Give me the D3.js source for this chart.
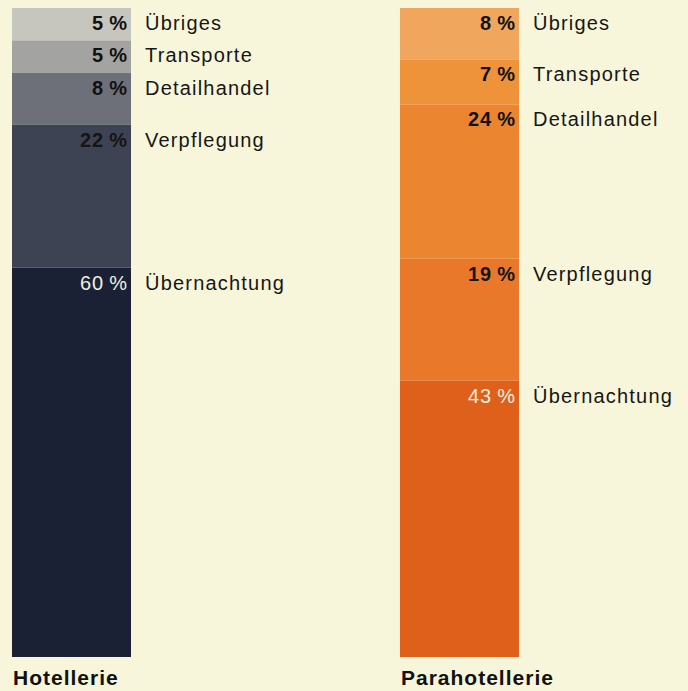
<!DOCTYPE html>
<html>
<head>
<meta charset="utf-8">
<script src="https://cdn.jsdelivr.net/npm/d3@7"></script>
<style>
  html, body { margin: 0; padding: 0; background: #f8f6da; }
  svg { display: block; }
</style>
</head>
<body>
<svg id="chart"></svg>
<script>
var WIDTH = 688, HEIGHT = 691;

// data, top segment first
var categories = ["Übriges", "Transporte", "Detailhandel", "Verpflegung", "Übernachtung"];
var groups = ["Hotellerie", "Parahotellerie"];
var hotellerie = [5, 5, 8, 22, 60];
var parahotellerie = [8, 7, 24, 19, 43];

var colors = {
  "Hotellerie": ["#c6c6bf", "#a3a3a1", "#6e7079", "#3e4354", "#1b2134"],
  "Parahotellerie": ["#f0a65c", "#ee933a", "#eb852f", "#e9782a", "#df601a"]
};
// percent label colour: dark for light segments, pale for the bottom one
var pctColors = ["#111", "#111", "#111", "#151515", "#eef0e0"];

var svg = d3.select("#chart")
  .attr("width", WIDTH)
  .attr("height", HEIGHT)
  .style("font-family", "'Liberation Sans', Arial, Helvetica, sans-serif");

var x = d3.scaleBand()
  .domain(groups)
  .range([12, 519])
  .paddingInner(0.6933)
  .paddingOuter(0);

var series = { "Hotellerie": hotellerie, "Parahotellerie": parahotellerie };

groups.forEach(function (g) {
  var vals = series[g];
  var y = d3.scaleLinear().domain([0, d3.sum(vals)]).range([8, 657]);
  var acc = 0;
  var segs = vals.map(function (v, i) {
    var s = { cat: categories[i], value: v, y0: acc, y1: acc + v, i: i };
    acc += v;
    return s;
  });

  var gg = svg.append("g").attr("class", "bar");
  var x0 = x(g), bw = x.bandwidth();

  gg.selectAll("rect")
    .data(segs)
    .enter().append("rect")
    .attr("x", x0)
    .attr("y", function (d) { return y(d.y0); })
    .attr("width", bw)
    .attr("height", function (d) { return y(d.y1) - y(d.y0); })
    .attr("fill", function (d) { return colors[g][d.i]; });

  gg.selectAll("text.pct")
    .data(segs)
    .enter().append("text")
    .attr("class", "pct")
    .attr("x", x0 + bw - 3)
    .attr("y", function (d) { return y(d.y0) + 22; })
    .attr("text-anchor", "end")
    .attr("font-size", 20)
    .attr("letter-spacing", 1)
    .attr("font-weight", function (d) { return d.i == 4 ? "normal" : "bold"; })
    .attr("fill", function (d) { return pctColors[d.i]; })
    .text(function (d) { return d.value + "\u2009%"; });

  gg.selectAll("text.cat")
    .data(segs)
    .enter().append("text")
    .attr("class", "cat")
    .attr("x", x0 + bw + 14)
    .attr("y", function (d) { return y(d.y0) + 22; })
    .attr("font-size", 20)
    .attr("letter-spacing", 1.2)
    .attr("fill", "#161616")
    .text(function (d) { return d.cat; });

  gg.append("text")
    .attr("x", x0 + 1)
    .attr("y", 685)
    .attr("font-size", 21)
    .attr("font-weight", "bold")
    .attr("letter-spacing", 1)
    .attr("fill", "#111")
    .text(g);
});
</script>
</body>
</html>
